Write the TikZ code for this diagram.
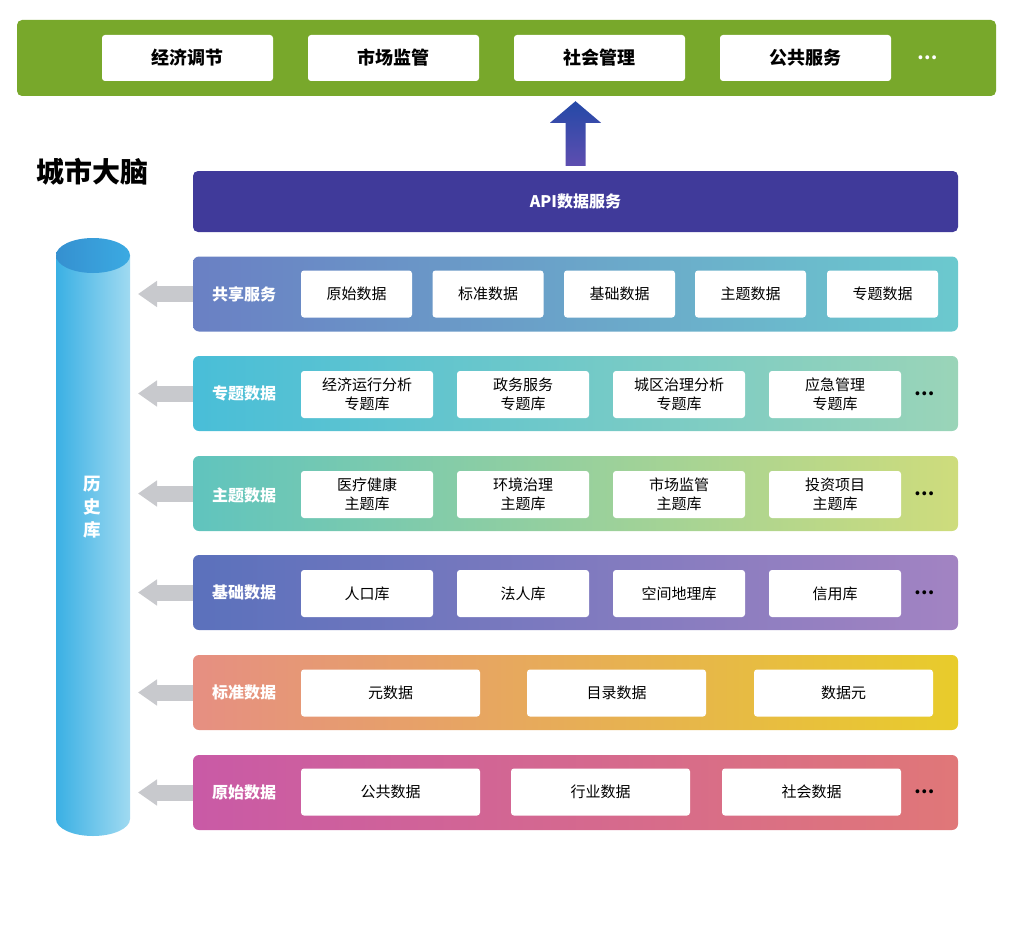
\documentclass[tikz,border=0pt]{standalone}
\usepackage{fontspec}
\setmainfont{Noto Sans CJK SC}
\usetikzlibrary{arrows.meta,calc}

\definecolor{topgreen}{HTML}{78A82B}
\definecolor{apiblue}{HTML}{403A9A}
\definecolor{arrowgray}{HTML}{C8C9CD}
\definecolor{cylL}{HTML}{3AB0E4}
\definecolor{cylR}{HTML}{A0DAF1}
\definecolor{cyltopL}{HTML}{3590D0}
\definecolor{cyltopR}{HTML}{3BAAE2}

\begin{document}
\begin{tikzpicture}[
    x=1pt, y=-1pt,
    font=\fontsize{15}{19}\selectfont
]
	\tikzset{
	    topbar/.style = {rectangle, rounded corners=5pt, fill=topgreen, minimum width=979pt, minimum height=76pt},
	    topitem/.style = {rectangle, rounded corners=3pt, fill=white, minimum width=171pt, minimum height=46pt, font=\fontsize{18}{20}\selectfont\bfseries},
	    apibar/.style = {rectangle, rounded corners=5pt, fill=apiblue, minimum width=765pt, minimum height=61pt, text=white, font=\fontsize{16}{18}\selectfont\bfseries},
	    band/.style = {rectangle, rounded corners=6pt, minimum width=765pt, minimum height=75pt},
	    bandlabel/.style = {text=white, font=\fontsize{16}{18}\selectfont\bfseries},
	    item/.style = {rectangle, rounded corners=3pt, fill=white, minimum width=132pt, minimum height=47pt, align=center, inner sep=0pt},
	    itemshort/.style = {item, minimum width=111pt},
	    itemlong/.style = {item, minimum width=179pt},
	    dots/.style = {font=\fontsize{18}{18}\selectfont\bfseries},
	    leftarrow/.style = {-{Triangle[width=25pt,length=19pt]}, line width=16pt, arrowgray},
	    histlabel/.style = {text=white, align=center, font=\fontsize{17.5}{23}\selectfont\bfseries},
	    title/.style = {font=\fontsize{28}{30}\selectfont\bfseries}
	}
	\useasboundingbox (0,0) rectangle (1017,947);

	% top row
	\node[topbar] at (506.5,58) (top) {};
	\node[topitem] at (187.5,58) (econ) {经济调节};
	\node[topitem] at (393.5,58) (market) {市场监管};
	\node[topitem] at (599.5,58) (social) {社会管理};
	\node[topitem] at (805.5,58) (public) {公共服务};
	\node[dots, text=white] at (928,58) (topdots) {…};

	\node[title] at (92.5,172) (brain) {城市大脑};
	\node[apibar] at (575.5,201.5) (api) {API数据服务};

	% up arrow
	\coordinate (ab) at ($(api.north)+(0,-5)$);
	\coordinate (at) at ($(api.north |- top.south)+(0,5)$);
	\shade[shading angle=30, top color={rgb,255:red,36;green,73;blue,167}, bottom color={rgb,255:red,94;green,78;blue,176}]
	    ($(ab)+(-10,0)$) -- ($(ab)+(-10,-43)$) -- ($(ab)+(-25.5,-43)$) -- (at)
	    -- ($(ab)+(25.5,-43)$) -- ($(ab)+(10,-43)$) -- ($(ab)+(10,0)$) -- cycle;

	% history cylinder
	\shade[left color=cylL, right color=cylR] (56,255) -- (56,819)
	    arc[start angle=180, end angle=360, x radius=37pt, y radius=17pt] -- (130,255) -- cycle;
	\shade[left color=cyltopL, right color=cyltopR] (93,255.5) ellipse [x radius=37pt, y radius=17.5pt];
	\node[histlabel] at (92,507) (hist) {历\\史\\库};
	\coordinate (histedge) at (138,507);

	% layers
	\node[band, left color={rgb,255:red,106;green,128;blue,196}, right color={rgb,255:red,107;green,201;blue,206}] at (575.5,294) (share) {};
	\node[bandlabel] at (244,294) (sharelbl) {共享服务};
	\node[itemshort] at (356.5,294) (share1) {原始数据};
	\node[itemshort] at (488,294) (share2) {标准数据};
	\node[itemshort] at (619.5,294) (share3) {基础数据};
	\node[itemshort] at (750.5,294) (share4) {主题数据};
	\node[itemshort] at (882.5,294) (share5) {专题数据};

	\node[band, left color={rgb,255:red,73;green,190;blue,216}, right color={rgb,255:red,154;green,212;blue,184}] at (575.5,393.5) (special) {};
	\node[bandlabel] at (244,393.5) (speciallbl) {专题数据};
	\node[item] at (367,394.5) (special1) {经济运行分析\\专题库};
	\node[item] at (523,394.5) (special2) {政务服务\\专题库};
	\node[item] at (679,394.5) (special3) {城区治理分析\\专题库};
	\node[item] at (835,394.5) (special4) {应急管理\\专题库};
	\node[dots] at (925,394) (specialdots) {…};

	\node[band, left color={rgb,255:red,96;green,196;blue,190}, right color={rgb,255:red,206;green,220;blue,124}] at (575.5,493.5) (theme) {};
	\node[bandlabel] at (244,495) (themelbl) {主题数据};
	\node[item] at (367,494.5) (theme1) {医疗健康\\主题库};
	\node[item] at (523,494.5) (theme2) {环境治理\\主题库};
	\node[item] at (679,494.5) (theme3) {市场监管\\主题库};
	\node[item] at (835,494.5) (theme4) {投资项目\\主题库};
	\node[dots] at (925,494) (themedots) {…};

	\node[band, left color={rgb,255:red,91;green,113;blue,188}, right color={rgb,255:red,162;green,131;blue,194}] at (575.5,592.5) (base) {};
	\node[bandlabel] at (244,592.5) (baselbl) {基础数据};
	\node[item] at (367,593.5) (base1) {人口库};
	\node[item] at (523,593.5) (base2) {法人库};
	\node[item] at (679,593.5) (base3) {空间地理库};
	\node[item] at (835,593.5) (base4) {信用库};
	\node[dots] at (925,593) (basedots) {…};

	\node[band, left color={rgb,255:red,230;green,143;blue,130}, middle color={rgb,255:red,233;green,178;blue,94}, right color={rgb,255:red,232;green,204;blue,43}] at (575.5,692.5) (std) {};
	\node[bandlabel] at (244,692.5) (stdlbl) {标准数据};
	\node[itemlong] at (390.5,693) (std1) {元数据};
	\node[itemlong] at (616.5,693) (std2) {目录数据};
	\node[itemlong] at (843.5,693) (std3) {数据元};

	\node[band, left color={rgb,255:red,201;green,90;blue,166}, middle color={rgb,255:red,217;green,104;blue,144}, right color={rgb,255:red,224;green,119;blue,120}] at (575.5,792.5) (raw) {};
	\node[bandlabel] at (244,792) (rawlbl) {原始数据};
	\node[itemlong] at (390.5,792) (raw1) {公共数据};
	\node[itemlong] at (600.5,792) (raw2) {行业数据};
	\node[itemlong] at (811.5,792) (raw3) {社会数据};
	\node[dots] at (925,792) (rawdots) {…};

	% arrows into history
	\draw[leftarrow] (share.west) -- (share.west -| histedge);
	\draw[leftarrow] (special.west) -- (special.west -| histedge);
	\draw[leftarrow] (theme.west) -- (theme.west -| histedge);
	\draw[leftarrow] (base.west) -- (base.west -| histedge);
	\draw[leftarrow] (std.west) -- (std.west -| histedge);
	\draw[leftarrow] (raw.west) -- (raw.west -| histedge);
\end{tikzpicture}
\end{document}
